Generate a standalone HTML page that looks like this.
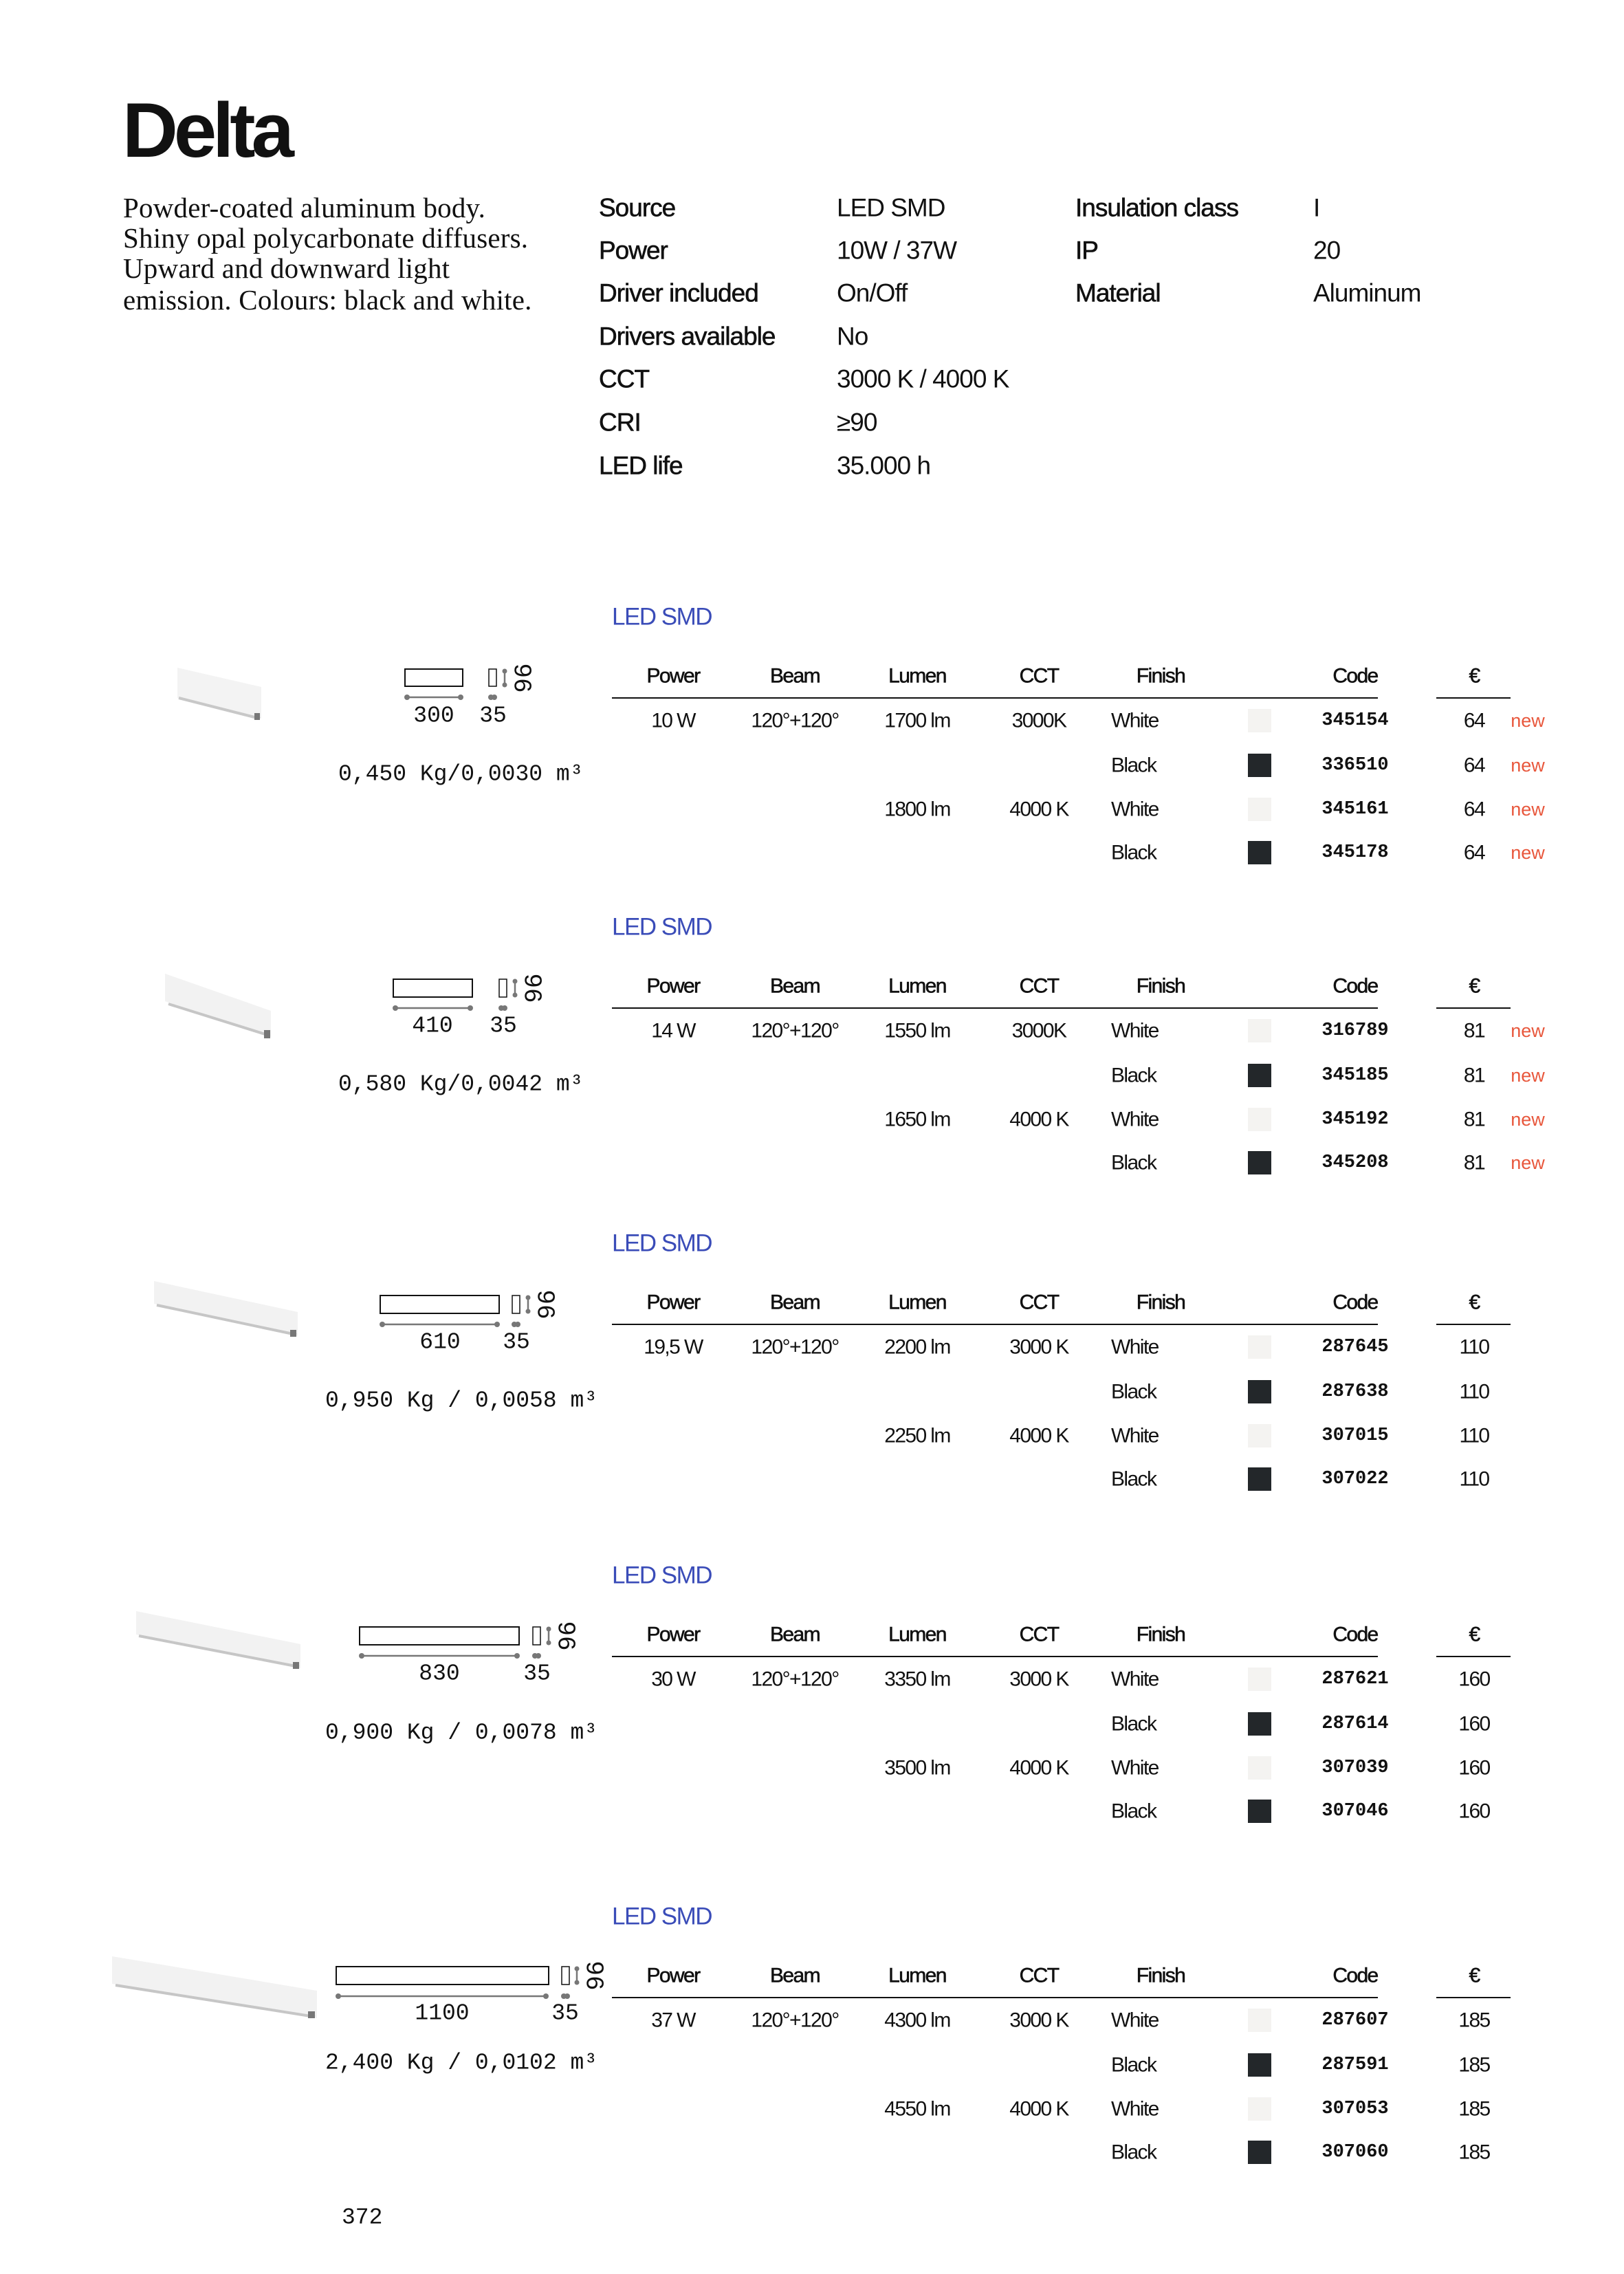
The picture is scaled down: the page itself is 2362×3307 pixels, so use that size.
<!DOCTYPE html>
<html><head><meta charset="utf-8"><style>
html,body{margin:0;padding:0;background:#fff}
svg{display:block}
.t{font-family:"Liberation Sans",sans-serif;fill:#111}
.h{font-size:30px;letter-spacing:-1.6px}
.v{font-size:30px;letter-spacing:-1.6px}
.c{font-family:"Liberation Mono",monospace;font-weight:bold;font-size:27px;fill:#111}
.n{font-family:"Liberation Sans",sans-serif;font-size:27px;fill:#e8573c}
.m{font-family:"Liberation Mono",monospace;font-size:33px;fill:#111}
.r{font-family:"Liberation Mono",monospace;font-size:36px;fill:#111}
.b{font-family:"Liberation Sans",sans-serif;font-size:35px;fill:#3a4cb8;letter-spacing:-1.5px}
.s{font-family:"Liberation Sans",sans-serif;font-size:37px;fill:#111;letter-spacing:-1px}
.sl{stroke:#111;stroke-width:0.6px}
.d{font-family:"Liberation Serif",serif;font-size:41px;fill:#111;letter-spacing:0.2px}
</style></head><body>
<svg width="2362" height="3307" viewBox="0 0 2362 3307" xmlns="http://www.w3.org/2000/svg">
<defs>
<g id="sw"><rect x="0" y="-17" width="34" height="34" fill="#f4f3f1"/></g>
<g id="sb"><rect x="0" y="-17" width="34" height="34" fill="#23272a"/></g>
</defs>
<text x="178" y="228" class="t" style="font-size:112px;font-weight:bold;letter-spacing:-6px">Delta</text>
<g class="d">
<text x="179" y="316">Powder-coated aluminum body.</text>
<text x="179" y="360">Shiny opal polycarbonate diffusers.</text>
<text x="179" y="404">Upward and downward light</text>
<text x="179" y="450">emission. Colours: black and white.</text>
</g>
<g dominant-baseline="central">
<g class="s sl">
<text x="871" y="302">Source</text><text x="871" y="364">Power</text><text x="871" y="426">Driver included</text><text x="871" y="489">Drivers available</text><text x="871" y="551">CCT</text><text x="871" y="614">CRI</text><text x="871" y="677">LED life</text>
<text x="1564" y="302">Insulation class</text><text x="1564" y="364">IP</text><text x="1564" y="426">Material</text>
</g>
<g class="s">
<text x="1217" y="302">LED SMD</text><text x="1217" y="364">10W / 37W</text><text x="1217" y="426">On/Off</text><text x="1217" y="489">No</text><text x="1217" y="551">3000 K / 4000 K</text><text x="1217" y="614">≥90</text><text x="1217" y="677">35.000 h</text>
<text x="1910" y="302">I</text><text x="1910" y="364">20</text><text x="1910" y="426">Aluminum</text>
</g>
</g>

<g dominant-baseline="central">
<g transform="translate(0,897)">
<polygon points="258,-2 380,26 380,72 258,42" fill="#f3f3f3" transform="translate(0,76)"/>
<line x1="260" y1="118" x2="378" y2="148" stroke="#c8c8c8" stroke-width="4"/>
<rect x="370" y="140" width="8" height="10" fill="#777"/>
<rect x="589" y="76" width="84" height="25" fill="none" stroke="#111" stroke-width="2"/>
<line x1="592" y1="117" x2="670" y2="117" stroke="#777" stroke-width="2.5"/><circle cx="592" cy="117" r="4" fill="#777"/><circle cx="670" cy="117" r="4" fill="#777"/>
<rect x="711" y="76" width="11" height="25" fill="none" stroke="#111" stroke-width="1.5"/>
<line x1="734" y1="79" x2="734" y2="99" stroke="#777" stroke-width="2.5"/><circle cx="734" cy="79" r="3.5" fill="#777"/><circle cx="734" cy="99" r="3.5" fill="#777"/>
<circle cx="714" cy="117" r="4" fill="#777"/><circle cx="719" cy="117" r="4" fill="#777"/>
<text class="r" transform="translate(758,89) rotate(90)" text-anchor="middle">96</text>
<text class="m" x="631" y="144" text-anchor="middle">300</text><text class="m" x="717" y="144" text-anchor="middle">35</text>
<text class="m" x="492" y="229">0,450 Kg/0,0030 m³</text>
</g>
<g transform="translate(0,1348)">
<polygon points="240,68 394,122 394,160 240,108" fill="#f2f2f2"/>
<line x1="245" y1="112" x2="392" y2="158" stroke="#c6c6c6" stroke-width="4"/>
<rect x="384" y="150" width="9" height="12" fill="#777"/>
<rect x="572" y="76" width="115" height="26" fill="none" stroke="#111" stroke-width="2"/>
<line x1="575" y1="118" x2="684" y2="118" stroke="#777" stroke-width="2.5"/><circle cx="575" cy="118" r="4" fill="#777"/><circle cx="684" cy="118" r="4" fill="#777"/>
<rect x="726" y="76" width="11" height="26" fill="none" stroke="#111" stroke-width="1.5"/>
<line x1="749" y1="79" x2="749" y2="99" stroke="#777" stroke-width="2.5"/><circle cx="749" cy="79" r="3.5" fill="#777"/><circle cx="749" cy="99" r="3.5" fill="#777"/>
<circle cx="729" cy="118" r="4" fill="#777"/><circle cx="734" cy="118" r="4" fill="#777"/>
<text class="r" transform="translate(773,89) rotate(90)" text-anchor="middle">96</text>
<text class="m" x="629" y="144" text-anchor="middle">410</text><text class="m" x="732" y="144" text-anchor="middle">35</text>
<text class="m" x="492" y="229">0,580 Kg/0,0042 m³</text>
</g>
<g transform="translate(0,1808)">
<polygon points="224,55 433,100 433,135 224,88" fill="#f2f2f2"/>
<line x1="228" y1="90" x2="431" y2="133" stroke="#c6c6c6" stroke-width="4"/>
<rect x="422" y="126" width="9" height="10" fill="#777"/>
<rect x="553" y="76" width="173" height="26" fill="none" stroke="#111" stroke-width="2"/>
<line x1="556" y1="118" x2="723" y2="118" stroke="#777" stroke-width="2.5"/><circle cx="556" cy="118" r="4" fill="#777"/><circle cx="723" cy="118" r="4" fill="#777"/>
<rect x="745" y="76" width="11" height="26" fill="none" stroke="#111" stroke-width="1.5"/>
<line x1="768" y1="79" x2="768" y2="99" stroke="#777" stroke-width="2.5"/><circle cx="768" cy="79" r="3.5" fill="#777"/><circle cx="768" cy="99" r="3.5" fill="#777"/>
<circle cx="748" cy="118" r="4" fill="#777"/><circle cx="753" cy="118" r="4" fill="#777"/>
<text class="r" transform="translate(792,89) rotate(90)" text-anchor="middle">96</text>
<text class="m" x="640" y="144" text-anchor="middle">610</text><text class="m" x="751" y="144" text-anchor="middle">35</text>
<text class="m" x="473" y="229" xml:space="preserve">0,950 Kg / 0,0058 m³</text>
</g>
<g transform="translate(0,2291)">
<polygon points="198,52 437,100 437,135 198,86" fill="#f2f2f2"/>
<line x1="202" y1="88" x2="435" y2="133" stroke="#c6c6c6" stroke-width="4"/>
<rect x="426" y="126" width="9" height="10" fill="#777"/>
<rect x="523" y="75" width="232" height="26" fill="none" stroke="#111" stroke-width="2"/>
<line x1="526" y1="117" x2="752" y2="117" stroke="#777" stroke-width="2.5"/><circle cx="526" cy="117" r="4" fill="#777"/><circle cx="752" cy="117" r="4" fill="#777"/>
<rect x="775" y="75" width="11" height="26" fill="none" stroke="#111" stroke-width="1.5"/>
<line x1="798" y1="78" x2="798" y2="98" stroke="#777" stroke-width="2.5"/><circle cx="798" cy="78" r="3.5" fill="#777"/><circle cx="798" cy="98" r="3.5" fill="#777"/>
<circle cx="778" cy="117" r="4" fill="#777"/><circle cx="783" cy="117" r="4" fill="#777"/>
<text class="r" transform="translate(822,88) rotate(90)" text-anchor="middle">96</text>
<text class="m" x="639" y="143" text-anchor="middle">830</text><text class="m" x="781" y="143" text-anchor="middle">35</text>
<text class="m" x="473" y="229" xml:space="preserve">0,900 Kg / 0,0078 m³</text>
</g>
<g transform="translate(0,2787)">
<polygon points="163,58 461,108 461,148 163,98" fill="#f2f2f2"/>
<line x1="168" y1="100" x2="458" y2="146" stroke="#c6c6c6" stroke-width="4"/>
<rect x="448" y="138" width="10" height="10" fill="#777"/>
<rect x="489" y="73" width="309" height="26" fill="none" stroke="#111" stroke-width="2"/>
<line x1="492" y1="116" x2="794" y2="116" stroke="#777" stroke-width="2.5"/><circle cx="492" cy="116" r="4" fill="#777"/><circle cx="794" cy="116" r="4" fill="#777"/>
<rect x="817" y="73" width="11" height="26" fill="none" stroke="#111" stroke-width="1.5"/>
<line x1="839" y1="76" x2="839" y2="96" stroke="#777" stroke-width="2.5"/><circle cx="839" cy="76" r="3.5" fill="#777"/><circle cx="839" cy="96" r="3.5" fill="#777"/>
<circle cx="820" cy="116" r="4" fill="#777"/><circle cx="825" cy="116" r="4" fill="#777"/>
<text class="r" transform="translate(863,86) rotate(90)" text-anchor="middle">96</text>
<text class="m" x="643" y="141" text-anchor="middle">1100</text><text class="m" x="822" y="141" text-anchor="middle">35</text>
<text class="m" x="473" y="213" xml:space="preserve">2,400 Kg / 0,0102 m³</text>
</g>
</g>

<g dominant-baseline="central">
<g transform="translate(0,897)">
<text class="b" x="890" y="0">LED SMD</text>
<g class="t h sl" text-anchor="middle"><text x="979" y="86">Power</text><text x="1156" y="86">Beam</text><text x="1334" y="86">Lumen</text><text x="1511" y="86">CCT</text><text x="1688" y="86">Finish</text><text x="1971" y="86">Code</text><text x="2144" y="86">€</text></g>
<line x1="890" y1="118" x2="2004" y2="118" stroke="#111" stroke-width="2"/><line x1="2089" y1="118" x2="2197" y2="118" stroke="#111" stroke-width="2"/>
<g class="t v" text-anchor="middle"><text x="979" y="151">10 W</text><text x="1156" y="151">120°+120°</text><text x="1334" y="151">1700 lm</text><text x="1511" y="151">3000K</text><text x="1334" y="280">1800 lm</text><text x="1511" y="280">4000 K</text></g>
<g class="t v"><text x="1616" y="151">White</text><text x="1616" y="216">Black</text><text x="1616" y="280">White</text><text x="1616" y="343">Black</text></g>
<use href="#sw" x="1815" y="151"/><use href="#sb" x="1815" y="216"/><use href="#sw" x="1815" y="280"/><use href="#sb" x="1815" y="343"/>
<g class="c" text-anchor="middle"><text x="1971" y="151">345154</text><text x="1971" y="216">336510</text><text x="1971" y="280">345161</text><text x="1971" y="343">345178</text></g>
<g class="t v" text-anchor="middle"><text x="2144" y="151">64</text><text x="2144" y="216">64</text><text x="2144" y="280">64</text><text x="2144" y="343">64</text></g>
<g class="n" text-anchor="middle"><text x="2222" y="151">new</text><text x="2222" y="216">new</text><text x="2222" y="280">new</text><text x="2222" y="343">new</text></g>
</g>
<g transform="translate(0,1348)">
<text class="b" x="890" y="0">LED SMD</text>
<g class="t h sl" text-anchor="middle"><text x="979" y="86">Power</text><text x="1156" y="86">Beam</text><text x="1334" y="86">Lumen</text><text x="1511" y="86">CCT</text><text x="1688" y="86">Finish</text><text x="1971" y="86">Code</text><text x="2144" y="86">€</text></g>
<line x1="890" y1="118" x2="2004" y2="118" stroke="#111" stroke-width="2"/><line x1="2089" y1="118" x2="2197" y2="118" stroke="#111" stroke-width="2"/>
<g class="t v" text-anchor="middle"><text x="979" y="151">14 W</text><text x="1156" y="151">120°+120°</text><text x="1334" y="151">1550 lm</text><text x="1511" y="151">3000K</text><text x="1334" y="280">1650 lm</text><text x="1511" y="280">4000 K</text></g>
<g class="t v"><text x="1616" y="151">White</text><text x="1616" y="216">Black</text><text x="1616" y="280">White</text><text x="1616" y="343">Black</text></g>
<use href="#sw" x="1815" y="151"/><use href="#sb" x="1815" y="216"/><use href="#sw" x="1815" y="280"/><use href="#sb" x="1815" y="343"/>
<g class="c" text-anchor="middle"><text x="1971" y="151">316789</text><text x="1971" y="216">345185</text><text x="1971" y="280">345192</text><text x="1971" y="343">345208</text></g>
<g class="t v" text-anchor="middle"><text x="2144" y="151">81</text><text x="2144" y="216">81</text><text x="2144" y="280">81</text><text x="2144" y="343">81</text></g>
<g class="n" text-anchor="middle"><text x="2222" y="151">new</text><text x="2222" y="216">new</text><text x="2222" y="280">new</text><text x="2222" y="343">new</text></g>
</g>
<g transform="translate(0,1808)">
<text class="b" x="890" y="0">LED SMD</text>
<g class="t h sl" text-anchor="middle"><text x="979" y="86">Power</text><text x="1156" y="86">Beam</text><text x="1334" y="86">Lumen</text><text x="1511" y="86">CCT</text><text x="1688" y="86">Finish</text><text x="1971" y="86">Code</text><text x="2144" y="86">€</text></g>
<line x1="890" y1="118" x2="2004" y2="118" stroke="#111" stroke-width="2"/><line x1="2089" y1="118" x2="2197" y2="118" stroke="#111" stroke-width="2"/>
<g class="t v" text-anchor="middle"><text x="979" y="151">19,5 W</text><text x="1156" y="151">120°+120°</text><text x="1334" y="151">2200 lm</text><text x="1511" y="151">3000 K</text><text x="1334" y="280">2250 lm</text><text x="1511" y="280">4000 K</text></g>
<g class="t v"><text x="1616" y="151">White</text><text x="1616" y="216">Black</text><text x="1616" y="280">White</text><text x="1616" y="343">Black</text></g>
<use href="#sw" x="1815" y="151"/><use href="#sb" x="1815" y="216"/><use href="#sw" x="1815" y="280"/><use href="#sb" x="1815" y="343"/>
<g class="c" text-anchor="middle"><text x="1971" y="151">287645</text><text x="1971" y="216">287638</text><text x="1971" y="280">307015</text><text x="1971" y="343">307022</text></g>
<g class="t v" text-anchor="middle"><text x="2144" y="151">110</text><text x="2144" y="216">110</text><text x="2144" y="280">110</text><text x="2144" y="343">110</text></g>
</g>
<g transform="translate(0,2291)">
<text class="b" x="890" y="0">LED SMD</text>
<g class="t h sl" text-anchor="middle"><text x="979" y="86">Power</text><text x="1156" y="86">Beam</text><text x="1334" y="86">Lumen</text><text x="1511" y="86">CCT</text><text x="1688" y="86">Finish</text><text x="1971" y="86">Code</text><text x="2144" y="86">€</text></g>
<line x1="890" y1="118" x2="2004" y2="118" stroke="#111" stroke-width="2"/><line x1="2089" y1="118" x2="2197" y2="118" stroke="#111" stroke-width="2"/>
<g class="t v" text-anchor="middle"><text x="979" y="151">30 W</text><text x="1156" y="151">120°+120°</text><text x="1334" y="151">3350 lm</text><text x="1511" y="151">3000 K</text><text x="1334" y="280">3500 lm</text><text x="1511" y="280">4000 K</text></g>
<g class="t v"><text x="1616" y="151">White</text><text x="1616" y="216">Black</text><text x="1616" y="280">White</text><text x="1616" y="343">Black</text></g>
<use href="#sw" x="1815" y="151"/><use href="#sb" x="1815" y="216"/><use href="#sw" x="1815" y="280"/><use href="#sb" x="1815" y="343"/>
<g class="c" text-anchor="middle"><text x="1971" y="151">287621</text><text x="1971" y="216">287614</text><text x="1971" y="280">307039</text><text x="1971" y="343">307046</text></g>
<g class="t v" text-anchor="middle"><text x="2144" y="151">160</text><text x="2144" y="216">160</text><text x="2144" y="280">160</text><text x="2144" y="343">160</text></g>
</g>
<g transform="translate(0,2787)">
<text class="b" x="890" y="0">LED SMD</text>
<g class="t h sl" text-anchor="middle"><text x="979" y="86">Power</text><text x="1156" y="86">Beam</text><text x="1334" y="86">Lumen</text><text x="1511" y="86">CCT</text><text x="1688" y="86">Finish</text><text x="1971" y="86">Code</text><text x="2144" y="86">€</text></g>
<line x1="890" y1="118" x2="2004" y2="118" stroke="#111" stroke-width="2"/><line x1="2089" y1="118" x2="2197" y2="118" stroke="#111" stroke-width="2"/>
<g class="t v" text-anchor="middle"><text x="979" y="151">37 W</text><text x="1156" y="151">120°+120°</text><text x="1334" y="151">4300 lm</text><text x="1511" y="151">3000 K</text><text x="1334" y="280">4550 lm</text><text x="1511" y="280">4000 K</text></g>
<g class="t v"><text x="1616" y="151">White</text><text x="1616" y="216">Black</text><text x="1616" y="280">White</text><text x="1616" y="343">Black</text></g>
<use href="#sw" x="1815" y="151"/><use href="#sb" x="1815" y="216"/><use href="#sw" x="1815" y="280"/><use href="#sb" x="1815" y="343"/>
<g class="c" text-anchor="middle"><text x="1971" y="151">287607</text><text x="1971" y="216">287591</text><text x="1971" y="280">307053</text><text x="1971" y="343">307060</text></g>
<g class="t v" text-anchor="middle"><text x="2144" y="151">185</text><text x="2144" y="216">185</text><text x="2144" y="280">185</text><text x="2144" y="343">185</text></g>
</g>
<text class="m" x="497" y="3225">372</text>
</g>
</svg>
</body></html>
